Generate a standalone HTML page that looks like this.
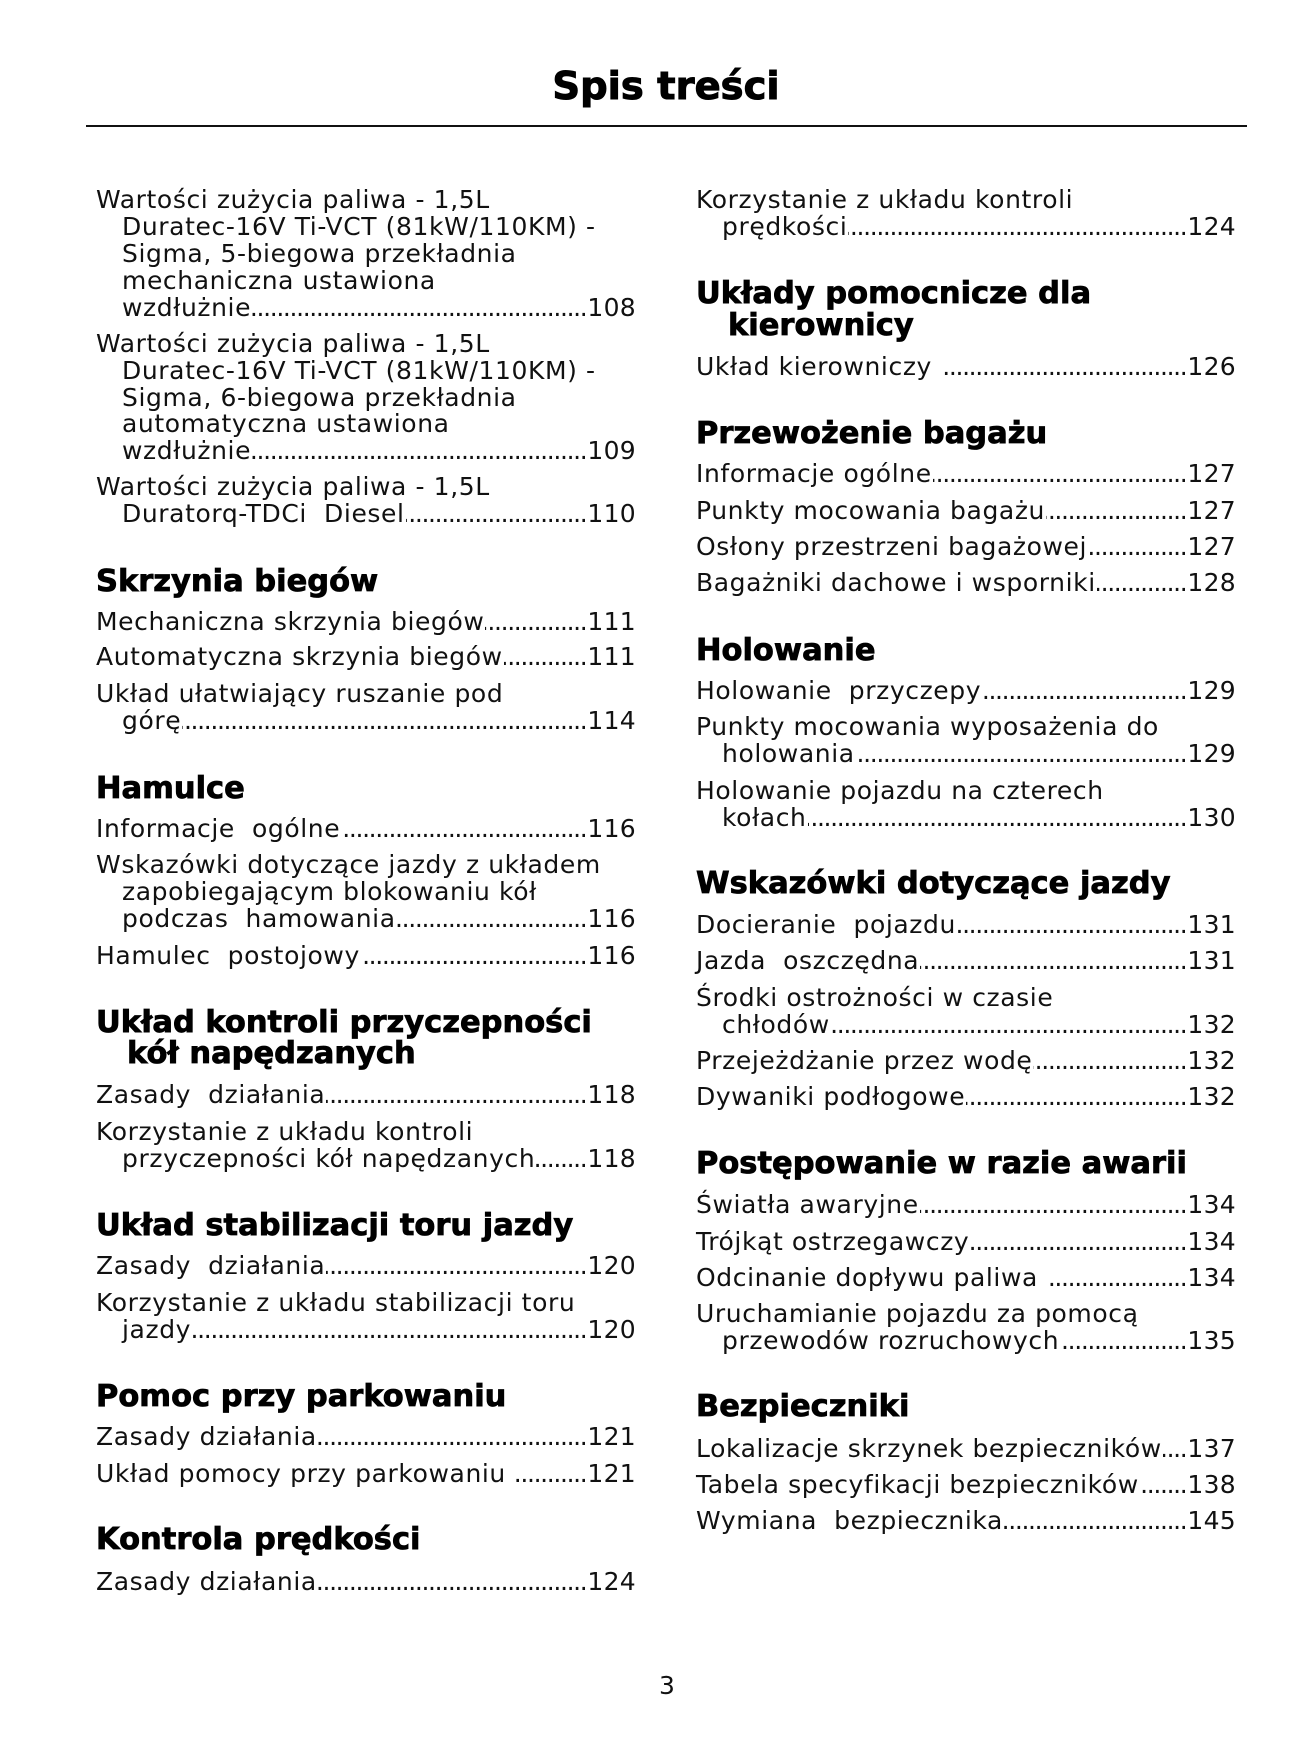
<!DOCTYPE html>
<html lang="pl">
<head>
<meta charset="utf-8">
<style>
html,body{margin:0;padding:0}
body{width:1302px;height:1755px;background:#fff;position:relative;overflow:hidden;font-family:"DejaVu Sans","Liberation Sans",sans-serif;color:#111}
.l{position:absolute;font-size:25px;line-height:30px;height:30px;letter-spacing:0.6px;white-space:pre;display:flex}
.l .t{flex:none}
.l .d{flex:1 1 0;min-width:0;overflow:hidden;direction:rtl;letter-spacing:-1.35px;margin:0 1px 0 1px}
.l .n{flex:none;letter-spacing:0.3px}
.h{position:absolute;font-weight:bold;font-size:30.5px;line-height:36px;white-space:pre;color:#000;-webkit-text-stroke:0.8px #000}
.lc{width:540px}
.lc2{width:514px}
.title{position:absolute;left:466px;width:400px;top:63.7px;text-align:center;font-weight:bold;font-size:38.5px;line-height:46px;color:#000;-webkit-text-stroke:1px #000}
.rule{position:absolute;left:86px;top:125px;width:1161px;height:2px;background:#111}
.pg{position:absolute;left:617px;width:100px;top:1671.4px;text-align:center;font-size:25px;line-height:30px}
</style>
</head>
<body>
<div class="title">Spis treści</div>
<div class="rule"></div>

<!-- LEFT COLUMN -->
<div class="l" style="left:96px;top:185.4px">Wartości zużycia paliwa - 1,5L</div>
<div class="l" style="left:122px;top:212.4px">Duratec-16V Ti-VCT (81kW/110KM) -</div>
<div class="l" style="left:122px;top:238.9px">Sigma, 5-biegowa przekładnia</div>
<div class="l" style="left:122px;top:265.9px">mechaniczna ustawiona</div>
<div class="l lc2" style="left:122px;top:292.9px"><span class="t">wzdłużnie</span><span class="d">........................................................................................................................</span><span class="n">108</span></div>
<div class="l" style="left:96px;top:328.9px">Wartości zużycia paliwa - 1,5L</div>
<div class="l" style="left:122px;top:355.9px">Duratec-16V Ti-VCT (81kW/110KM) -</div>
<div class="l" style="left:122px;top:382.9px">Sigma, 6-biegowa przekładnia</div>
<div class="l" style="left:122px;top:409.4px">automatyczna ustawiona</div>
<div class="l lc2" style="left:122px;top:436.4px"><span class="t">wzdłużnie</span><span class="d">........................................................................................................................</span><span class="n">109</span></div>
<div class="l" style="left:96px;top:471.9px">Wartości zużycia paliwa - 1,5L</div>
<div class="l lc2" style="left:122px;top:499.4px"><span class="t">Duratorq-TDCi  Diesel</span><span class="d">........................................................................................................................</span><span class="n">110</span></div>

<div class="h" style="left:96px;top:564.4px">Skrzynia biegów</div>
<div class="l lc" style="left:96px;top:607.4px"><span class="t">Mechaniczna skrzynia biegów</span><span class="d">........................................................................................................................</span><span class="n">111</span></div>
<div class="l lc" style="left:96px;top:642.4px"><span class="t">Automatyczna skrzynia biegów</span><span class="d">........................................................................................................................</span><span class="n">111</span></div>
<div class="l" style="left:96px;top:678.9px">Układ ułatwiający ruszanie pod</div>
<div class="l lc2" style="left:122px;top:705.9px"><span class="t">górę</span><span class="d">........................................................................................................................</span><span class="n">114</span></div>

<div class="h" style="left:96px;top:771.4px">Hamulce</div>
<div class="l lc" style="left:96px;top:814.4px"><span class="t">Informacje  ogólne</span><span class="d">........................................................................................................................</span><span class="n">116</span></div>
<div class="l" style="left:96px;top:850.4px">Wskazówki dotyczące jazdy z układem</div>
<div class="l" style="left:122px;top:877.4px">zapobiegającym blokowaniu kół</div>
<div class="l lc2" style="left:122px;top:904.4px"><span class="t">podczas  hamowania</span><span class="d">........................................................................................................................</span><span class="n">116</span></div>
<div class="l lc" style="left:96px;top:940.9px"><span class="t">Hamulec  postojowy</span><span class="d">........................................................................................................................</span><span class="n">116</span></div>

<div class="h" style="left:96px;top:1005.4px">Układ kontroli przyczepności</div>
<div class="h" style="left:127px;top:1036.4px">kół napędzanych</div>
<div class="l lc" style="left:96px;top:1080.4px"><span class="t">Zasady  działania</span><span class="d">........................................................................................................................</span><span class="n">118</span></div>
<div class="l" style="left:96px;top:1117.4px">Korzystanie z układu kontroli</div>
<div class="l lc2" style="left:122px;top:1144.4px"><span class="t">przyczepności kół napędzanych</span><span class="d">........................................................................................................................</span><span class="n">118</span></div>

<div class="h" style="left:96px;top:1208.4px">Układ stabilizacji toru jazdy</div>
<div class="l lc" style="left:96px;top:1251.4px"><span class="t">Zasady  działania</span><span class="d">........................................................................................................................</span><span class="n">120</span></div>
<div class="l" style="left:96px;top:1287.9px">Korzystanie z układu stabilizacji toru</div>
<div class="l lc2" style="left:122px;top:1314.9px"><span class="t">jazdy</span><span class="d">........................................................................................................................</span><span class="n">120</span></div>

<div class="h" style="left:96px;top:1379.4px">Pomoc przy parkowaniu</div>
<div class="l lc" style="left:96px;top:1422.4px"><span class="t">Zasady działania</span><span class="d">........................................................................................................................</span><span class="n">121</span></div>
<div class="l lc" style="left:96px;top:1458.9px"><span class="t">Układ pomocy przy parkowaniu </span><span class="d">........................................................................................................................</span><span class="n">121</span></div>

<div class="h" style="left:96px;top:1522.4px">Kontrola prędkości</div>
<div class="l lc" style="left:96px;top:1567.4px"><span class="t">Zasady działania</span><span class="d">........................................................................................................................</span><span class="n">124</span></div>

<!-- RIGHT COLUMN -->
<div class="l" style="left:696px;top:185.4px">Korzystanie z układu kontroli</div>
<div class="l lc2" style="left:722px;top:212.4px"><span class="t">prędkości</span><span class="d">........................................................................................................................</span><span class="n">124</span></div>

<div class="h" style="left:696px;top:276.4px">Układy pomocnicze dla</div>
<div class="h" style="left:728px;top:308.4px">kierownicy</div>
<div class="l lc" style="left:696px;top:351.9px"><span class="t">Układ kierowniczy </span><span class="d">........................................................................................................................</span><span class="n">126</span></div>

<div class="h" style="left:696px;top:416.4px">Przewożenie bagażu</div>
<div class="l lc" style="left:696px;top:459.4px"><span class="t">Informacje ogólne</span><span class="d">........................................................................................................................</span><span class="n">127</span></div>
<div class="l lc" style="left:696px;top:495.9px"><span class="t">Punkty mocowania bagażu</span><span class="d">........................................................................................................................</span><span class="n">127</span></div>
<div class="l lc" style="left:696px;top:532.4px"><span class="t">Osłony przestrzeni bagażowej</span><span class="d">........................................................................................................................</span><span class="n">127</span></div>
<div class="l lc" style="left:696px;top:568.4px"><span class="t">Bagażniki dachowe i wsporniki</span><span class="d">........................................................................................................................</span><span class="n">128</span></div>

<div class="h" style="left:696px;top:632.9px">Holowanie</div>
<div class="l lc" style="left:696px;top:675.9px"><span class="t">Holowanie  przyczepy</span><span class="d">........................................................................................................................</span><span class="n">129</span></div>
<div class="l" style="left:696px;top:712.4px">Punkty mocowania wyposażenia do</div>
<div class="l lc2" style="left:722px;top:739.4px"><span class="t">holowania</span><span class="d">........................................................................................................................</span><span class="n">129</span></div>
<div class="l" style="left:696px;top:776.4px">Holowanie pojazdu na czterech</div>
<div class="l lc2" style="left:722px;top:803.4px"><span class="t">kołach</span><span class="d">........................................................................................................................</span><span class="n">130</span></div>

<div class="h" style="left:696px;top:866.4px">Wskazówki dotyczące jazdy</div>
<div class="l lc" style="left:696px;top:910.4px"><span class="t">Docieranie  pojazdu</span><span class="d">........................................................................................................................</span><span class="n">131</span></div>
<div class="l lc" style="left:696px;top:946.4px"><span class="t">Jazda  oszczędna</span><span class="d">........................................................................................................................</span><span class="n">131</span></div>
<div class="l" style="left:696px;top:983.4px">Środki ostrożności w czasie</div>
<div class="l lc2" style="left:722px;top:1010.4px"><span class="t">chłodów</span><span class="d">........................................................................................................................</span><span class="n">132</span></div>
<div class="l lc" style="left:696px;top:1046.4px"><span class="t">Przejeżdżanie przez wodę</span><span class="d">........................................................................................................................</span><span class="n">132</span></div>
<div class="l lc" style="left:696px;top:1082.4px"><span class="t">Dywaniki podłogowe</span><span class="d">........................................................................................................................</span><span class="n">132</span></div>

<div class="h" style="left:696px;top:1145.9px">Postępowanie w razie awarii</div>
<div class="l lc" style="left:696px;top:1189.9px"><span class="t">Światła awaryjne</span><span class="d">........................................................................................................................</span><span class="n">134</span></div>
<div class="l lc" style="left:696px;top:1226.9px"><span class="t">Trójkąt ostrzegawczy</span><span class="d">........................................................................................................................</span><span class="n">134</span></div>
<div class="l lc" style="left:696px;top:1262.9px"><span class="t">Odcinanie dopływu paliwa </span><span class="d">........................................................................................................................</span><span class="n">134</span></div>
<div class="l" style="left:696px;top:1299.4px">Uruchamianie pojazdu za pomocą</div>
<div class="l lc2" style="left:722px;top:1326.4px"><span class="t">przewodów rozruchowych</span><span class="d">........................................................................................................................</span><span class="n">135</span></div>

<div class="h" style="left:696px;top:1388.9px">Bezpieczniki</div>
<div class="l lc" style="left:696px;top:1434.4px"><span class="t">Lokalizacje skrzynek bezpieczników</span><span class="d">........................................................................................................................</span><span class="n">137</span></div>
<div class="l lc" style="left:696px;top:1470.4px"><span class="t">Tabela specyfikacji bezpieczników</span><span class="d">........................................................................................................................</span><span class="n">138</span></div>
<div class="l lc" style="left:696px;top:1506.4px"><span class="t">Wymiana  bezpiecznika</span><span class="d">........................................................................................................................</span><span class="n">145</span></div>

<div class="pg">3</div>
</body>
</html>
